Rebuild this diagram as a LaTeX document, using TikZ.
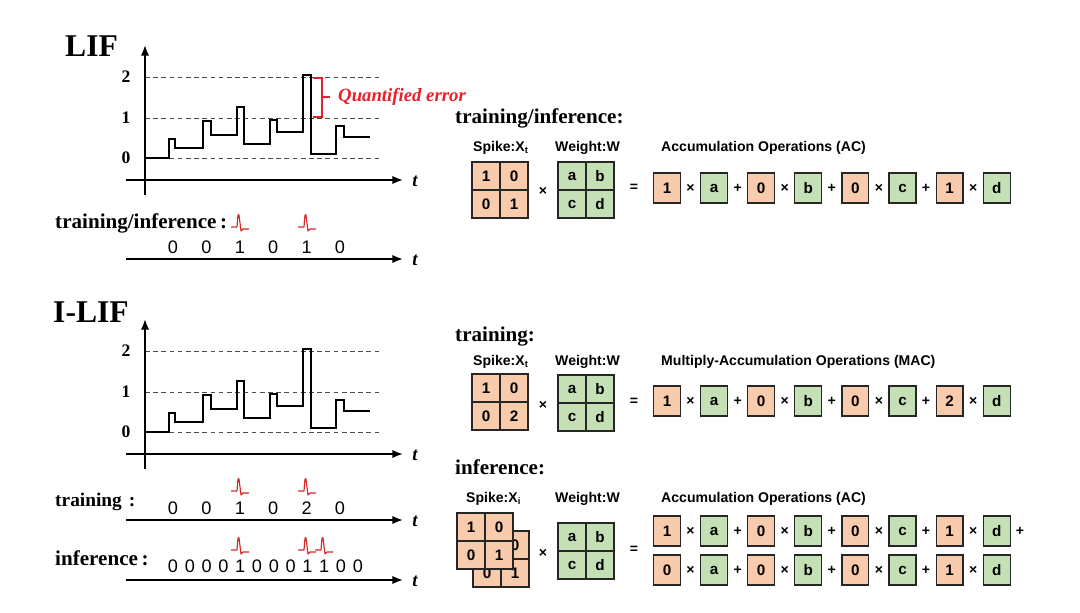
\documentclass[tikz,border=0pt]{standalone}
\usepackage{fontspec}
\setmainfont{Liberation Serif}
\setsansfont{Liberation Sans}
\usetikzlibrary{arrows.meta}
\definecolor{spk}{HTML}{F8CBAD}
\definecolor{wgt}{HTML}{C5E0B4}
\definecolor{bd}{HTML}{262626}
\definecolor{errred}{HTML}{E8202A}
\definecolor{spkred}{HTML}{D42A2A}
\tikzset{
 ax/.style={line width=1.5pt, -{Latex[length=9pt,width=7pt]}},
 dsh/.style={dash pattern=on 4pt off 3pt, line width=0.7pt, black!70},
 wave/.style={line width=1.6pt, line join=miter},
 tl/.style={font=\fontsize{16}{16}\selectfont\bfseries\itshape, inner sep=0},
 lvl/.style={font=\fontsize{15}{15}\selectfont\bfseries, inner sep=0},
 dig/.style={font=\sffamily\fontsize{15.5}{15.5}\selectfont, inner sep=0},
 ttl/.style={font=\fontsize{27}{27}\selectfont\bfseries, inner sep=0, anchor=west},
 lab/.style={font=\fontsize{18}{18}\selectfont\bfseries, inner sep=0, anchor=west},
 rlab/.style={font=\fontsize{18}{18}\selectfont\bfseries, inner sep=0, anchor=west},
 hdr/.style={font=\sffamily\bfseries\fontsize{12}{12}\selectfont, inner sep=0, anchor=west},
 cell/.style={draw=bd, line width=1pt, minimum size=23.9pt, inner sep=0, font=\sffamily\bfseries\fontsize{13}{13}\selectfont},
 sc/.style={cell, fill=spk}, wc/.style={cell, fill=wgt},
 rb/.style={draw=bd, line width=1pt, minimum width=23pt, minimum height=25.6pt, inner sep=0, font=\sffamily\bfseries\fontsize{13}{13}\selectfont},
 sb/.style={rb, fill=spk}, wb/.style={rb, fill=wgt},
 op/.style={font=\sffamily\bfseries\fontsize{12}{12}\selectfont, inner sep=0},
 apspike/.pic={\draw[spkred, line width=1pt, line join=round] (-9,4) -- (-3,4) .. controls (-2,-9) .. (-1,-8) -- (1,8) -- (3,6) -- (9,6);}
}
% LIF membrane-potential panel: #1 = vertical offset (px), #2 = name prefix
\newcommand\lifpanel[2]{%
\begin{scope}[shift={(0,#1)}]
 \draw[dsh] (145,77) -- (382,77);
 \draw[dsh] (145,118) -- (382,118);
 \draw[dsh] (145,158) -- (382,158);
 \node[lvl] (#2l2) at (126,77) {2};
 \node[lvl] (#2l1) at (126,118) {1};
 \node[lvl] (#2l0) at (126,158) {0};
 \coordinate (#2yb) at (145,195); \coordinate (#2yt) at (145,45);
 \coordinate (#2xl) at (126,180); \coordinate (#2xr) at (403,180);
 \draw[ax] (#2yb) -- (#2yt);
 \draw[ax] (#2xl) -- (#2xr);
 \node[tl] (#2t) at (415,181) {t};
 \draw[wave] (145,158) -- (169,158) -- (169,139) -- (175,139) -- (175,148) -- (203,148)
   -- (203,121) -- (211,121) -- (211,135) -- (237,135) -- (237,107) -- (244,107)
   -- (244,144) -- (270,144) -- (270,120) -- (277,120) -- (277,132) -- (303,132)
   -- (303,75) -- (311,75) -- (311,154) -- (336,154) -- (336,126) -- (344,126)
   -- (344,137) -- (370,137);
\end{scope}}
% one equation row: #1 prefix, #2 y, #3 list of spike/weight pairs, #4 trailing text
\newcommand\eqrow[4]{%
 \foreach \v/\w [count=\i from 0] in {#3} {
  \pgfmathsetmacro\xs{667+94.2*\i}
  \node[sb] (#1s\i) at (\xs,#2) {\v};
  \node[op] (#1x\i) at (\xs+23.5,#2) {×};
  \node[wb] (#1w\i) at (\xs+47.1,#2) {\w};
  \ifnum\i<3 \node[op] (#1p\i) at (\xs+70.6,#2) {+}; \fi
 }
 \node[op] (#1end) at (1020,#2) {#4};
}
% 2x2 matrix: #1 prefix, #2 style, #3 x0, #4 y0, #5..#8 entries
\newcommand\mat[8]{%
 \node[#2] (#1a) at (#3+14,#4+14) {#5};
 \node[#2] (#1b) at (#3+42,#4+14) {#6};
 \node[#2] (#1c) at (#3+14,#4+42) {#7};
 \node[#2] (#1d) at (#3+42,#4+42) {#8};
}
\begin{document}
\begin{tikzpicture}[x=0.03cm,y=-0.03cm]
\useasboundingbox[fill=white] (0,0) rectangle (1080,613);
% ---------------- LIF ----------------
\node[ttl] (lif) at (65,46) {LIF};
\lifpanel{0}{A}
\draw[errred, line width=0.9pt] (313,78) -- (322,78) -- (322,117) -- (313,117);
\draw[errred, line width=0.9pt] (322,97) -- (330,97);
\node[font=\fontsize{16}{16}\selectfont\bfseries\itshape, text=errred, anchor=west, inner sep=0] (qe) at (338,97) {Quantified error};
\node[lab] (tiA) at (55,223) {training/inference\hspace{3pt}:};
\pic at (240,223) {apspike};
\pic at (307,223) {apspike};
\foreach \d [count=\i from 0] in {0,0,1,0,1,0} \node[dig] (da\i) at ({173+33.4*\i},247) {\d};
\coordinate (ta1) at (126,259); \coordinate (ta2) at (403,259);
\draw[ax] (ta1) -- (ta2);
\node[tl] (tta) at (415,260) {t};
% ---------------- I-LIF ----------------
\node[ttl] (ilif) at (53,312) {I-LIF};
\lifpanel{274}{B}
\node[lab, font=\fontsize{16.5}{16.5}\selectfont\bfseries] (trB) at (55,502) {training\hspace{6pt}:};
\pic at (240,487) {apspike};
\pic at (307,487) {apspike};
\foreach \d [count=\i from 0] in {0,0,1,0,2,0} \node[dig] (db\i) at ({173+33.4*\i},508) {\d};
\coordinate (tb1) at (126,520); \coordinate (tb2) at (403,520);
\draw[ax] (tb1) -- (tb2);
\node[tl] (ttb) at (415,521) {t};
\node[lab] (inB) at (55,558) {inference\hspace{3pt}:};
\pic at (240,546) {apspike};
\pic at (307,546) {apspike};
\pic at (324,546) {apspike};
\foreach \d [count=\i from 0] in {0,0,0,0,1,0,0,0,1,1,0,0} \node[dig] (dc\i) at ({173+16.8*\i},566) {\d};
\coordinate (tc1) at (126,580); \coordinate (tc2) at (403,580);
\draw[ax] (tc1) -- (tc2);
\node[tl] (ttc) at (415,581) {t};
% ---------------- right: training/inference ----------------
\node[rlab] (r1) at (455,118) {training/inference:};
\node[hdr] (h1s) at (473,148) {Spike:X\textsubscript{t}};
\node[hdr] (h1w) at (555,148) {Weight:W};
\node[hdr] (h1o) at (661,148) {Accumulation Operations (AC)};
\mat{S1}{sc}{472}{162}{1}{0}{0}{1}
\node[op] (m1) at (543,191) {×};
\mat{W1}{wc}{558}{162}{a}{b}{c}{d}
\node[op] (e1) at (634,188) {=};
\eqrow{R1}{188}{1/a,0/b,0/c,1/d}{}
% ---------------- right: training ----------------
\node[rlab] (r2) at (455,337) {training:};
\node[hdr] (h2s) at (473,362) {Spike:X\textsubscript{t}};
\node[hdr] (h2w) at (555,362) {Weight:W};
\node[hdr] (h2o) at (661,362) {Multiply-Accumulation Operations (MAC)};
\mat{S2}{sc}{472}{374}{1}{0}{0}{2}
\node[op] (m2) at (543,405) {×};
\mat{W2}{wc}{558}{375}{a}{b}{c}{d}
\node[op] (e2) at (634,402) {=};
\eqrow{R2}{401}{1/a,0/b,0/c,2/d}{}
% ---------------- right: inference ----------------
\node[rlab] (r3) at (455,467) {inference:};
\node[hdr] (h3s) at (466,499) {Spike:X\textsubscript{i}};
\node[hdr] (h3w) at (555,499) {Weight:W};
\node[hdr] (h3o) at (661,499) {Accumulation Operations (AC)};
\mat{S3b}{sc}{473}{531}{1}{0}{0}{1}
\mat{S3f}{sc}{457}{513}{1}{0}{0}{1}
\node[op] (m3) at (543,553) {×};
\mat{W3}{wc}{558}{523}{a}{b}{c}{d}
\node[op] (e3) at (634,550) {=};
\eqrow{R3}{531}{1/a,0/b,0/c,1/d}{+}
\eqrow{R4}{570}{0/a,0/b,0/c,1/d}{}
\end{tikzpicture}
\end{document}
